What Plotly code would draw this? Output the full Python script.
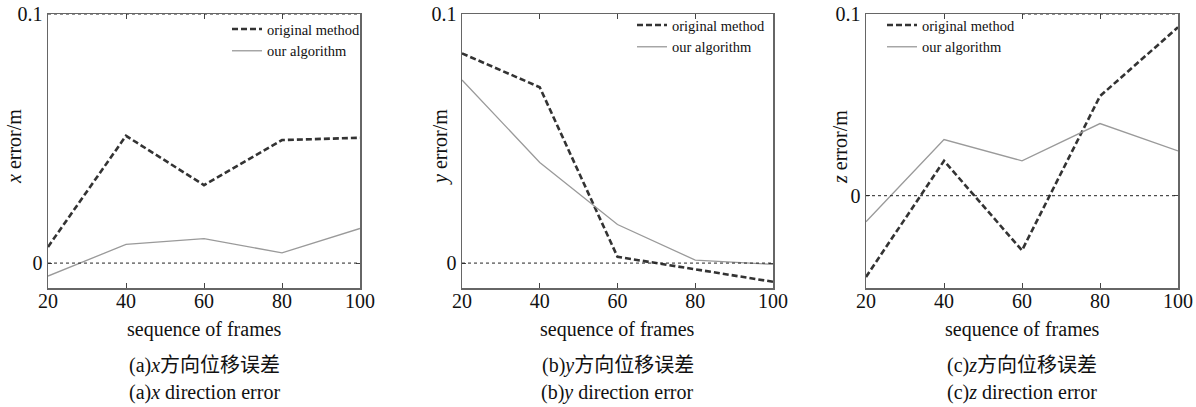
import plotly.graph_objects as go

frames = [20, 40, 60, 80, 100]

x_original = [0.0065, 0.0511, 0.0313, 0.0494, 0.0503]
x_ours = [-0.0052, 0.0075, 0.0098, 0.0041, 0.0139]

y_original = [0.0842, 0.0706, 0.0025, -0.0025, -0.0075]
y_ours = [0.0735, 0.0404, 0.0155, 0.0012, -0.0005]

z_original = [-0.0447, 0.0192, -0.0301, 0.0548, 0.0927]
z_ours = [-0.0143, 0.0309, 0.0192, 0.0397, 0.0247]

y_ranges = [[-0.01, 0.1], [-0.01, 0.1], [-0.0508, 0.1]]
ytick_vals = [0, 0.1]
ytick_text = ["0", "0.1"]
xtick_vals = [20, 40, 60, 80, 100]

axis_letters = ["x", "y", "z"]
panel_tags = ["(a)", "(b)", "(c)"]
series_names = ["original method", "our algorithm"]

W, H = 1196, 407
FONT = "Liberation Serif"
CJK = "Liberation Serif, Noto Sans CJK SC"

# plot area pixel boxes
x_px = [(48, 360), (462, 773), (866, 1178)]
y_top, y_bot = 14, 288
ytitle_x = [14, 440, 840]

fig = go.Figure()

data = [(x_original, x_ours), (y_original, y_ours), (z_original, z_ours)]
legend_left = [227, 632, 882]
legend_top = [13, 9, 9]

for i, (orig, ours) in enumerate(data):
    sfx = "" if i == 0 else str(i + 1)
    leg = "legend" if i == 0 else f"legend{i+1}"
    fig.add_trace(go.Scatter(x=frames, y=orig, mode="lines", name=series_names[0],
                             line=dict(color="#333333", width=2.6, dash="6px,3px"),
                             xaxis="x" + sfx, yaxis="y" + sfx, legend=leg))
    fig.add_trace(go.Scatter(x=frames, y=ours, mode="lines", name=series_names[1],
                             line=dict(color="#9a9a9a", width=1.3),
                             xaxis="x" + sfx, yaxis="y" + sfx, legend=leg))

layout = dict(width=W, height=H, margin=dict(l=0, r=0, t=0, b=0, autoexpand=False),
              paper_bgcolor="white", plot_bgcolor="white",
              font=dict(family=FONT, size=16, color="#111111"))

shapes = []
annotations = []
for i in range(3):
    sfx = "" if i == 0 else str(i + 1)
    x0, x1 = x_px[i]
    layout["xaxis" + sfx] = dict(domain=[x0 / W, x1 / W], range=[20, 100], anchor="y" + sfx,
                                 tickvals=xtick_vals, ticks="inside", ticklen=5, tickwidth=1,
                                 tickcolor="#444444", showgrid=False, zeroline=False,
                                 showline=True, linecolor="#666666", linewidth=1.5, mirror="ticks",
                                 tickfont=dict(size=20), fixedrange=True, automargin=False,
                                 ticklabelstandoff=-6)
    layout["yaxis" + sfx] = dict(domain=[1 - y_bot / H, 1 - y_top / H], range=y_ranges[i],
                                 anchor="x" + sfx, tickvals=ytick_vals, ticktext=ytick_text,
                                 ticks="inside", ticklen=4, tickcolor="#444444",
                                 showgrid=False, zeroline=False, showline=True,
                                 linecolor="#666666", linewidth=1.5, mirror="ticks",
                                 tickfont=dict(size=20), fixedrange=True, automargin=False)
    leg = "legend" if i == 0 else f"legend{i+1}"
    layout[leg] = dict(x=legend_left[i] / W, y=1 - legend_top[i] / H, xanchor="left", yanchor="top",
                       bgcolor="rgba(0,0,0,0)", font=dict(size=14.5, family=FONT),
                       itemwidth=30, tracegroupgap=0)
    # zero reference line
    shapes.append(dict(type="line", xref="x" + sfx + " domain", yref="y" + sfx,
                       x0=0, x1=1, y0=0, y1=0, line=dict(color="#222222", width=1, dash="dot")))
    cx = (x0 + x1) / 2 / W
    letter = axis_letters[i]
    common = dict(xref="paper", yref="paper", showarrow=False, xanchor="center", yanchor="middle")
    annotations.append(dict(text="sequence of frames", x=cx, y=1 - 329 / H,
                            font=dict(size=20, family=FONT), **common))
    annotations.append(dict(text=f"{panel_tags[i]}<i>{letter}</i>方向位移误差", x=cx, y=1 - 365 / H,
                            font=dict(size=20, family=CJK), **common))
    annotations.append(dict(text=f"{panel_tags[i]}<i>{letter}</i> direction error", x=cx, y=1 - 392 / H,
                            font=dict(size=20, family=FONT), **common))
    annotations.append(dict(text=f"<i>{letter}</i> error/m", x=ytitle_x[i] / W, y=1 - 147 / H,
                            textangle=-90, font=dict(size=20, family=FONT), **common))

# top dotted reference lines seen in panels (a) and (c)
shapes.append(dict(type="line", xref="x", yref="y", x0=20, x1=100, y0=0.1, y1=0.1,
                   line=dict(color="#222222", width=1, dash="dot")))
shapes.append(dict(type="line", xref="x3", yref="y3", x0=60, x1=100, y0=0.1, y1=0.1,
                   line=dict(color="#222222", width=1, dash="dot")))

layout["shapes"] = shapes
layout["annotations"] = annotations
fig.update_layout(**layout)

fig.write_html("out.html", config={"displayModeBar": False, "staticPlot": True},
               post_script="document.body.style.margin='0';document.body.style.overflow='hidden';")
